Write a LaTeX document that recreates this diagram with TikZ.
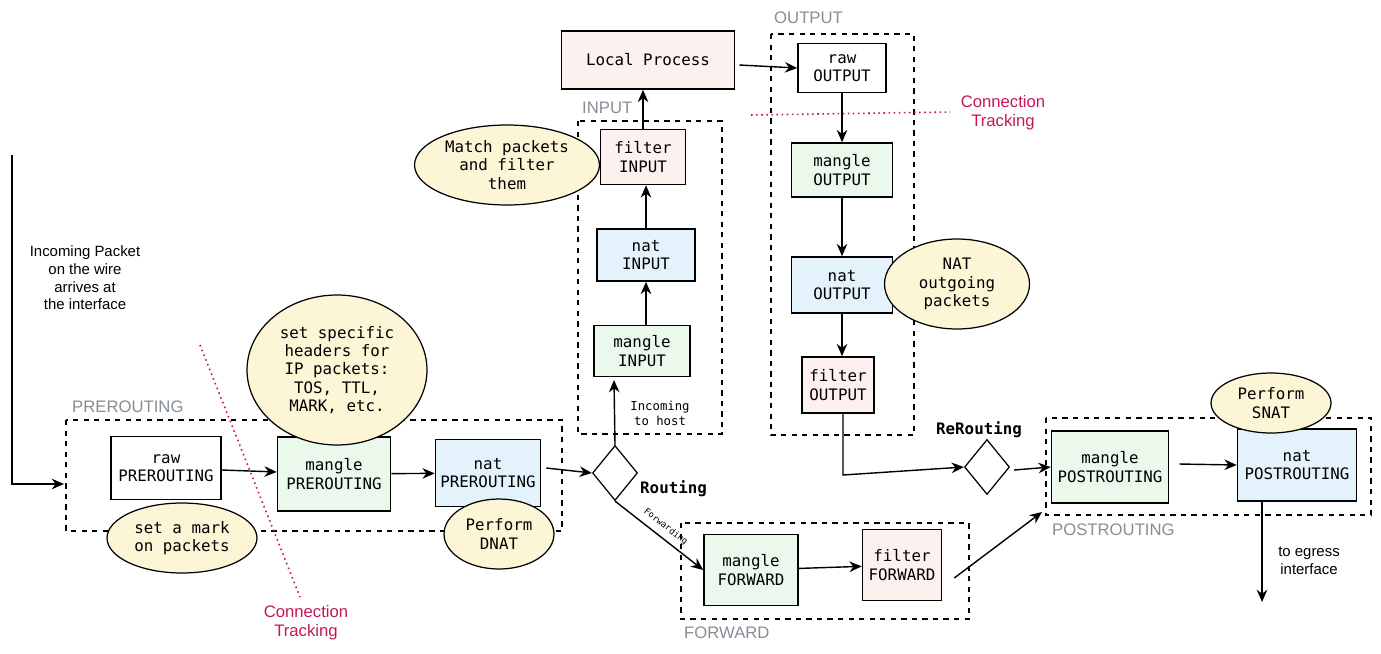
\documentclass[tikz,border=0pt]{standalone}
\usepackage{fontspec}
\setmainfont{Liberation Sans}
\newfontfamily\monof{DejaVu Sans Mono}
\usetikzlibrary{shapes.geometric,arrows.meta}
\definecolor{gfill}{HTML}{EBF8EC}
\definecolor{bfill}{HTML}{E4F2FB}
\definecolor{pfill}{HTML}{FDF1F0}
\definecolor{yfill}{HTML}{FCF5D6}
\definecolor{ctc}{HTML}{C2185B}
\definecolor{grp}{HTML}{868E96}
\tikzset{
 box/.style={draw=black,line width=0.9pt,align=center,font=\monof\fontsize{9}{10.5}\selectfont,inner sep=0pt},
 gb/.style={box,fill=gfill},
 bb/.style={box,fill=bfill},
 pb/.style={box,fill=pfill},
 wb/.style={box,fill=white},
 grp/.style={draw=black,dashed,line width=0.7pt},
 glab/.style={text=grp,font=\fontsize{9.5}{11}\selectfont,anchor=west},
 note/.style={ellipse,draw=black,line width=0.7pt,fill=yfill,align=center,font=\monof\fontsize{9}{10.5}\selectfont,inner sep=0pt},
 arr/.style={-{Stealth[length=7pt,width=6pt]},line width=0.8pt},
 lab/.style={align=center,font=\fontsize{8.5}{10}\selectfont},
 ct/.style={ctc,dotted,line width=0.9pt},
 dia/.style={diamond,draw=black,line width=0.7pt,fill=white,inner sep=0pt,minimum width=0.9cm,minimum height=1.1cm}
}
\begin{document}
\begin{tikzpicture}[x=0.02cm,y=-0.02cm]
\useasboundingbox[fill=white] (0,0) rectangle (1381,653);
% groups
\draw[grp] (66,420) rectangle (562,531);
\node[glab] at (66,407) {PREROUTING};
\draw[grp] (578,121) rectangle (722,434);
\node[glab] at (576,108) {INPUT};
\draw[grp] (771,34) rectangle (914,435);
\node[glab] at (768,18) {OUTPUT};
\draw[grp] (681,523) rectangle (969,619);
\node[glab] at (678,633) {FORWARD};
\draw[grp] (1046,418) rectangle (1371,515);
\node[glab] at (1046,530) {POSTROUTING};
% connection tracking
\draw[ct] (200,345) -- (300,597);
\node[lab,text=ctc,font=\fontsize{9.5}{11}\selectfont] at (306,623) {Connection\\Tracking};
\draw[ct] (751,115) -- (950,112);
\node[lab,text=ctc,font=\fontsize{9.5}{11}\selectfont] at (1003,113) {Connection\\Tracking};
% boxes
\node[wb,minimum width=2.2cm,minimum height=1.26cm] (rawpre) at (166,468) {raw\\PREROUTING};
\node[gb,minimum width=2.26cm,minimum height=1.48cm] (manpre) at (334,474) {mangle\\PREROUTING};
\node[bb,minimum width=2.1cm,minimum height=1.34cm] (natpre) at (488,473) {nat\\PREROUTING};
\node[gb,minimum width=1.92cm,minimum height=1.02cm] (manin) at (642,351) {mangle\\INPUT};
\node[bb,minimum width=1.96cm,minimum height=1.04cm] (natin) at (646,255) {nat\\INPUT};
\node[pb,minimum width=1.7cm,minimum height=1.1cm] (filin) at (643,157) {filter\\INPUT};
\node[pb,minimum width=3.46cm,minimum height=1.16cm] (local) at (648,60) {Local Process};
\node[wb,minimum width=1.76cm,minimum height=0.98cm] (rawout) at (842,68) {raw\\OUTPUT};
\node[gb,minimum width=2.02cm,minimum height=1.08cm] (manout) at (842,170) {mangle\\OUTPUT};
\node[bb,minimum width=2.02cm,minimum height=1.12cm] (natout) at (842,285) {nat\\OUTPUT};
\node[pb,minimum width=1.44cm,minimum height=1.12cm] (filout) at (838,385) {filter\\OUTPUT};
\node[gb,minimum width=1.88cm,minimum height=1.42cm] (manfwd) at (751,570) {mangle\\FORWARD};
\node[pb,minimum width=1.58cm,minimum height=1.42cm] (filfwd) at (902,565) {filter\\FORWARD};
\node[gb,minimum width=2.34cm,minimum height=1.44cm] (manpost) at (1110,467) {mangle\\POSTROUTING};
\node[bb,minimum width=2.38cm,minimum height=1.44cm] (natpost) at (1297,465) {nat\\POSTROUTING};
% notes
\node[note,minimum width=3.6cm,minimum height=3cm] at (337,370) {set specific\\headers for\\IP packets:\\TOS, TTL,\\MARK, etc.};
\node[note,minimum width=3cm,minimum height=1.4cm] at (182,538) {set a mark\\on packets};
\node[note,minimum width=2.2cm,minimum height=1.4cm] at (499,534) {Perform\\DNAT};
\node[note,minimum width=3.7cm,minimum height=1.6cm] at (507,165) {Match packets\\and filter\\them};
\node[note,minimum width=2.9cm,minimum height=1.8cm] at (957,284) {NAT\\outgoing\\packets};
\node[note,minimum width=2.4cm,minimum height=1.2cm] at (1271,403) {Perform\\SNAT};
% diamonds
\node[dia] (route) at (615,473) {};
\node[dia] (reroute) at (987,467) {};
\node[font=\monof\bfseries\fontsize{9}{10}\selectfont,anchor=west] at (634,489) {Routing};
\node[font=\monof\bfseries\fontsize{9}{10}\selectfont] at (979,430) {ReRouting};
% incoming
\coordinate (inStart) at (12,155);
\coordinate (inBend) at (12,484);
\node[lab] at (85,278) {Incoming Packet\\on the wire\\arrives at\\the interface};
\draw[arr] (inStart) -- (inBend) -- (64,484);
% arrows
\draw[arr] (rawpre) -- (manpre);
\draw[arr] (manpre) -- (natpre);
\draw[arr] (natpre.east) ++(5,-5) -- (route.west);
\draw[arr] (route.north) -- (614,380);
\node[lab,font=\monof\fontsize{7}{8.5}\selectfont] at (660,413) {Incoming\\to host};
\draw[arr] (manin.north -| natin) -- (natin);
\draw[arr] (natin) -- (filin.south -| natin);
\draw[arr] (filin) -- (local.south -| filin);
\draw[arr] (local.east) ++(4,5) -- (rawout.west);
\draw[arr] (rawout) -- (manout);
\draw[arr] (manout) -- (natout);
\draw[arr] (natout) -- (filout.north -| natout);
\coordinate (fbend) at (843,475);
\draw[arr] (filout.south -| fbend) -- (fbend) -- (reroute.west);
\draw[arr] (reroute.east) ++(4,3) -- (manpost.west);
\draw[arr] (manpost.east) ++(10,-3) -- (natpost.west);
\coordinate (egress) at (1262,602);
\draw[arr] (natpost.south -| egress) -- (egress);
\node[lab] at (1309,561) {to egress\\interface};
\draw[arr] (route.south) -- node[sloped,above,font=\monof\fontsize{5}{6}\selectfont] {Forwarding} (manfwd.west);
\draw[arr] (manfwd) -- (filfwd);
\draw[arr] (filfwd.east) ++(12,13) -- (1042,512);
\end{tikzpicture}
\end{document}
